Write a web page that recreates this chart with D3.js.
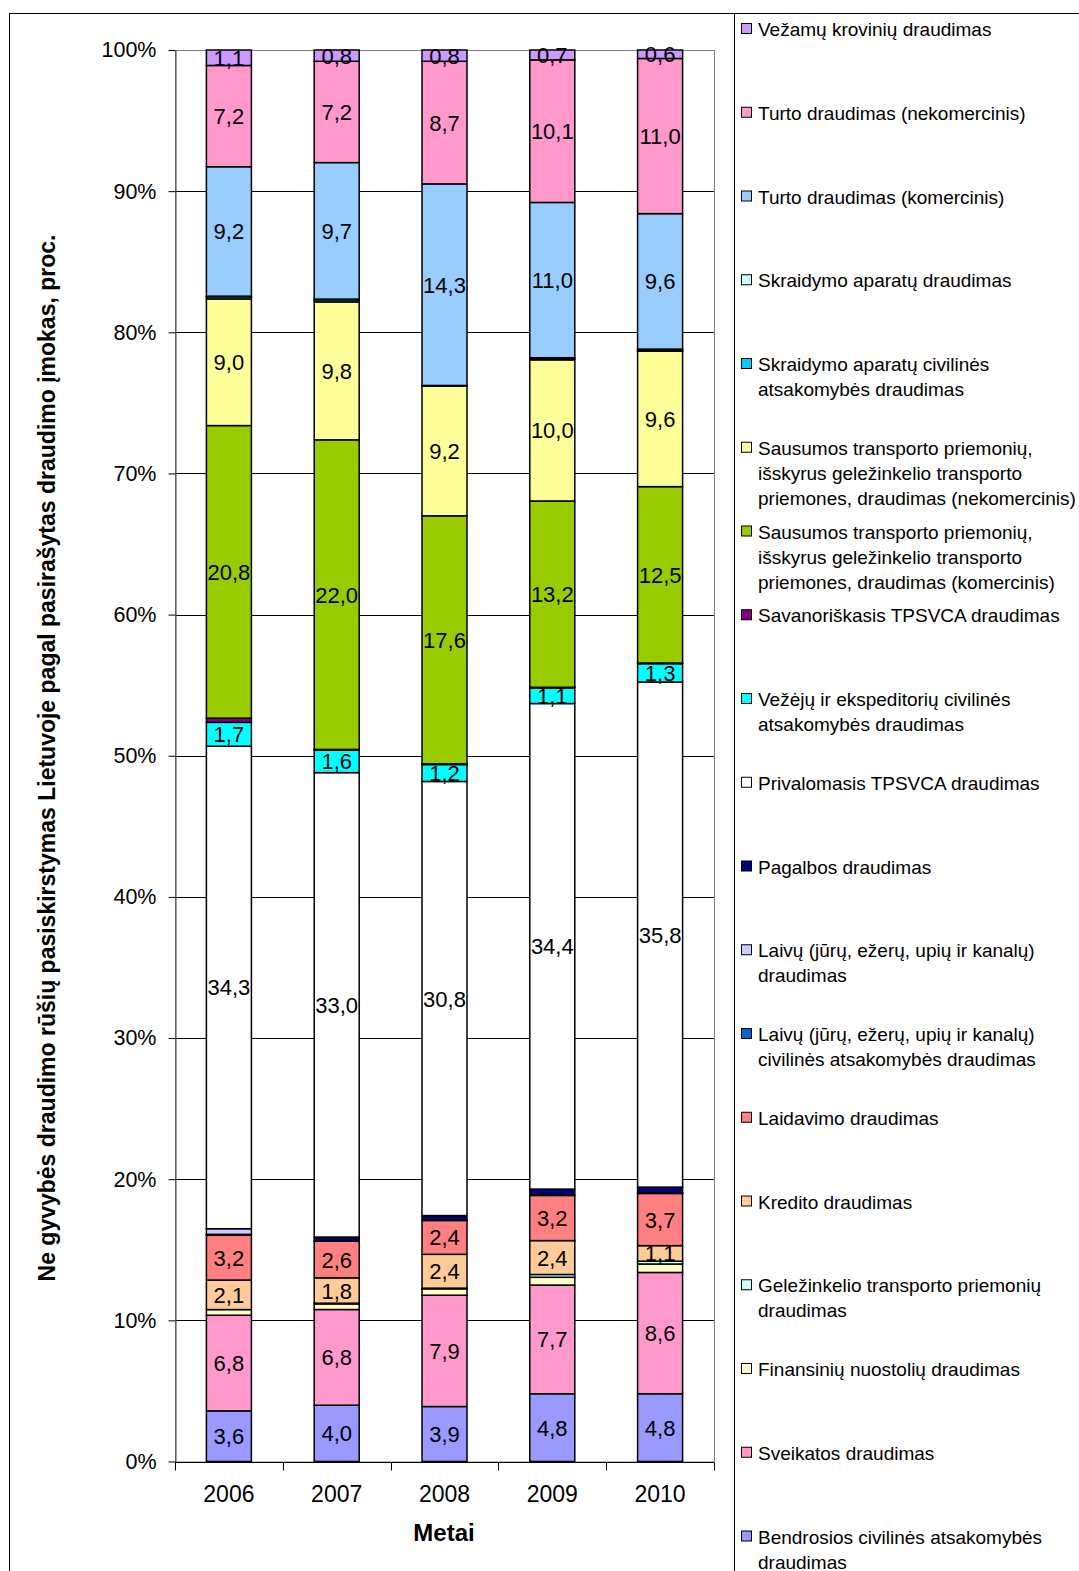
<!DOCTYPE html>
<html><head><meta charset="utf-8">
<script src="https://cdn.jsdelivr.net/npm/d3@7"></script>
<style>body{margin:0;background:#fff}svg{display:block}svg text{font-family:"Liberation Sans",Arial,sans-serif}</style>
</head><body><svg id="c" width="1079" height="1571"></svg>
<script>
const years = ["2006","2007","2008","2009","2010"];
const yTicks = [0,10,20,30,40,50,60,70,80,90,100];
// series values (percent), per year 2006..2010
const vezamu        = [1.1, 0.8, 0.8, 0.7, 0.6];
const turtoNekom    = [7.2, 7.2, 8.7, 10.1, 11.0];
const turtoKom      = [9.2, 9.7, 14.3, 11.0, 9.6];
const skraid        = [0.05, 0.05, 0.0, 0.05, 0.05];
const skraidCiv     = [0.15, 0.15, 0.05, 0.1, 0.1];
const sausNekom     = [9.0, 9.8, 9.2, 10.0, 9.6];
const sausKom       = [20.8, 22.0, 17.6, 13.2, 12.5];
const savanoriskasis= [0.3, 0.05, 0.05, 0.05, 0.05];
const vezeju        = [1.7, 1.6, 1.2, 1.1, 1.3];
const privalomasis  = [34.3, 33.0, 30.8, 34.4, 35.8];
const pagalbos      = [0.0, 0.25, 0.3, 0.4, 0.4];
const laivu         = [0.4, 0.05, 0.05, 0.05, 0.05];
const laivuCiv      = [0.05, 0.0, 0.0, 0.0, 0.0];
const laidavimo     = [3.2, 2.6, 2.4, 3.2, 3.7];
const kredito       = [2.1, 1.8, 2.4, 2.4, 1.1];
const gelezinkelio  = [0.0, 0.05, 0.05, 0.2, 0.2];
const finansiniu    = [0.4, 0.4, 0.45, 0.55, 0.6];
const sveikatos     = [6.8, 6.8, 7.9, 7.7, 8.6];
const bendrosios    = [3.6, 4.0, 3.9, 4.8, 4.8];

// legend order (top to bottom)
const seriesNames = [
 ["Vežamų krovinių draudimas"],
 ["Turto draudimas (nekomercinis)"],
 ["Turto draudimas (komercinis)"],
 ["Skraidymo aparatų draudimas"],
 ["Skraidymo aparatų civilinės","atsakomybės draudimas"],
 ["Sausumos transporto priemonių,","išskyrus geležinkelio transporto","priemones, draudimas (nekomercinis)"],
 ["Sausumos transporto priemonių,","išskyrus geležinkelio transporto","priemones, draudimas (komercinis)"],
 ["Savanoriškasis TPSVCA draudimas"],
 ["Vežėjų ir ekspeditorių civilinės","atsakomybės draudimas"],
 ["Privalomasis TPSVCA draudimas"],
 ["Pagalbos draudimas"],
 ["Laivų (jūrų, ežerų, upių ir kanalų)","draudimas"],
 ["Laivų (jūrų, ežerų, upių ir kanalų)","civilinės atsakomybės draudimas"],
 ["Laidavimo draudimas"],
 ["Kredito draudimas"],
 ["Geležinkelio transporto priemonių","draudimas"],
 ["Finansinių nuostolių draudimas"],
 ["Sveikatos draudimas"],
 ["Bendrosios civilinės atsakomybės","draudimas"]
];
const seriesValues = [vezamu,turtoNekom,turtoKom,skraid,skraidCiv,sausNekom,sausKom,savanoriskasis,vezeju,privalomasis,pagalbos,laivu,laivuCiv,laidavimo,kredito,gelezinkelio,finansiniu,sveikatos,bendrosios];
const seriesColors = ["#CC99FF","#FF99CC","#99CCFF","#CCFFFF","#00CCFF","#FFFF99","#99CC00","#800080","#00FFFF","#FFFFFF","#000080","#CCCCFF","#0066CC","#FF8080","#FFCC99","#CCFFFF","#FFFFCC","#FF99CC","#9999FF"];
const seriesLabeled = [1,1,1,0,0,1,1,0,1,1,0,0,0,1,1,0,0,1,1];

const FF = "Liberation Sans, Arial, sans-serif";
const svg = d3.select("#c");
const L = 175, R = 714, T = 50, B = 1461.5;
const x = d3.scaleBand().domain(years).range([L, R]).padding(0);
const y = d3.scaleLinear().domain([0, 1]).range([B, T]);
const barW = 45;

// outer borders
svg.append("rect").attr("x",9.5).attr("y",13.5).attr("width",1100).attr("height",1600).attr("fill","none").attr("stroke","#000").attr("stroke-width",1);
svg.append("line").attr("x1",734.5).attr("x2",734.5).attr("y1",13).attr("y2",1571).attr("stroke","#000");

// gridlines
const yp = d3.scaleLinear().domain([0,100]).range([B,T]);
svg.append("g").selectAll("line").data(yTicks.filter(t=>t>0 && t<100)).join("line")
  .attr("x1",L).attr("x2",R).attr("y1",d=>Math.round(yp(d))+0.5).attr("y2",d=>Math.round(yp(d))+0.5)
  .attr("stroke","#000").attr("stroke-width",1);
// plot area border (gray)
svg.append("rect").attr("x",L+0.5).attr("y",T+0.5).attr("width",R-L).attr("height",B-T).attr("fill","none").attr("stroke","#808080");

// y axis
const yAxis = d3.axisLeft(yp).tickValues(yTicks).tickFormat(d=>d+"%").tickSize(7).tickSizeOuter(0);
const ga = svg.append("g").attr("transform",`translate(${L+0.5},0)`).call(yAxis).attr("font-family",FF).attr("font-size",21.5);
ga.select(".domain").attr("stroke","#404040");
ga.selectAll(".tick line").attr("stroke","#000");
ga.selectAll(".tick text").attr("fill","#000").attr("x",-19);

// x axis
const gx = svg.append("g").attr("transform",`translate(0,${Math.round(B)+0.5})`);
gx.append("line").attr("x1",L).attr("x2",R).attr("stroke","#000");
gx.selectAll(".tk").data(years.concat(["end"])).join("line").attr("class","tk")
  .attr("x1",(d,i)=>Math.round(L+i*x.step())+0.5).attr("x2",(d,i)=>Math.round(L+i*x.step())+0.5)
  .attr("y1",0).attr("y2",8).attr("stroke","#000");
gx.selectAll("text").data(years).join("text")
  .attr("x",d=>x(d)+x.bandwidth()/2).attr("y",39).attr("text-anchor","middle")
  .attr("font-size",23).text(d=>d);

// stacked bars
const bottomUp = d3.range(seriesValues.length).reverse();
const rows = years.map((yr,j)=>{ const o={year:yr}; bottomUp.forEach(k=>o["s"+k]=seriesValues[k][j]); return o;});
const stack = d3.stack().keys(bottomUp.map(k=>"s"+k)).offset(d3.stackOffsetExpand);
const layers = stack(rows);
const g = svg.append("g");
layers.forEach(layer=>{
  const k = +layer.key.slice(1);
  layer.forEach((seg,j)=>{
    const v = seriesValues[k][j];
    if (!(v>0)) return;
    const cx = x(years[j]) + x.bandwidth()/2;
    g.append("rect").attr("x",cx-barW/2).attr("width",barW)
      .attr("y",y(seg[1])).attr("height",Math.max(0,y(seg[0])-y(seg[1])))
      .attr("fill",seriesColors[k]).attr("stroke","#000").attr("stroke-width",1.5);
  });
});
layers.forEach(layer=>{
  const k = +layer.key.slice(1);
  if (!seriesLabeled[k]) return;
  layer.forEach((seg,j)=>{
    const v = seriesValues[k][j];
    const cx = x(years[j]) + x.bandwidth()/2;
    g.append("text").attr("x",cx).attr("y",(y(seg[0])+y(seg[1]))/2+8)
      .attr("text-anchor","middle").attr("font-size",22).attr("fill","#000")
      .text(d3.format(".1f")(v).replace(".",","));
  });
});

// axis titles
svg.append("text").attr("x",444).attr("y",1541).attr("text-anchor","middle")
  .attr("font-size",24).attr("font-weight","bold").text("Metai");
svg.append("text").attr("transform","translate(55,758) rotate(-90)").attr("text-anchor","middle")
  .attr("font-size",23).attr("font-weight","bold")
  .text("Ne gyvybės draudimo rūšių pasiskirstymas Lietuvoje pagal pasirašytas draudimo įmokas, proc.");

// legend
const lg = svg.append("g");
seriesNames.forEach((lines,i)=>{
  const cy = 29 + i*83.75;
  lg.append("rect").attr("x",741.5).attr("y",cy-5.5).attr("width",10).attr("height",10)
    .attr("fill",seriesColors[i]).attr("stroke","#000").attr("stroke-width",1);
  lines.forEach((t,l)=>{
    lg.append("text").attr("x",758).attr("y",cy+7+l*25).attr("font-size",19).attr("fill","#000").text(t);
  });
});
</script></body></html>
